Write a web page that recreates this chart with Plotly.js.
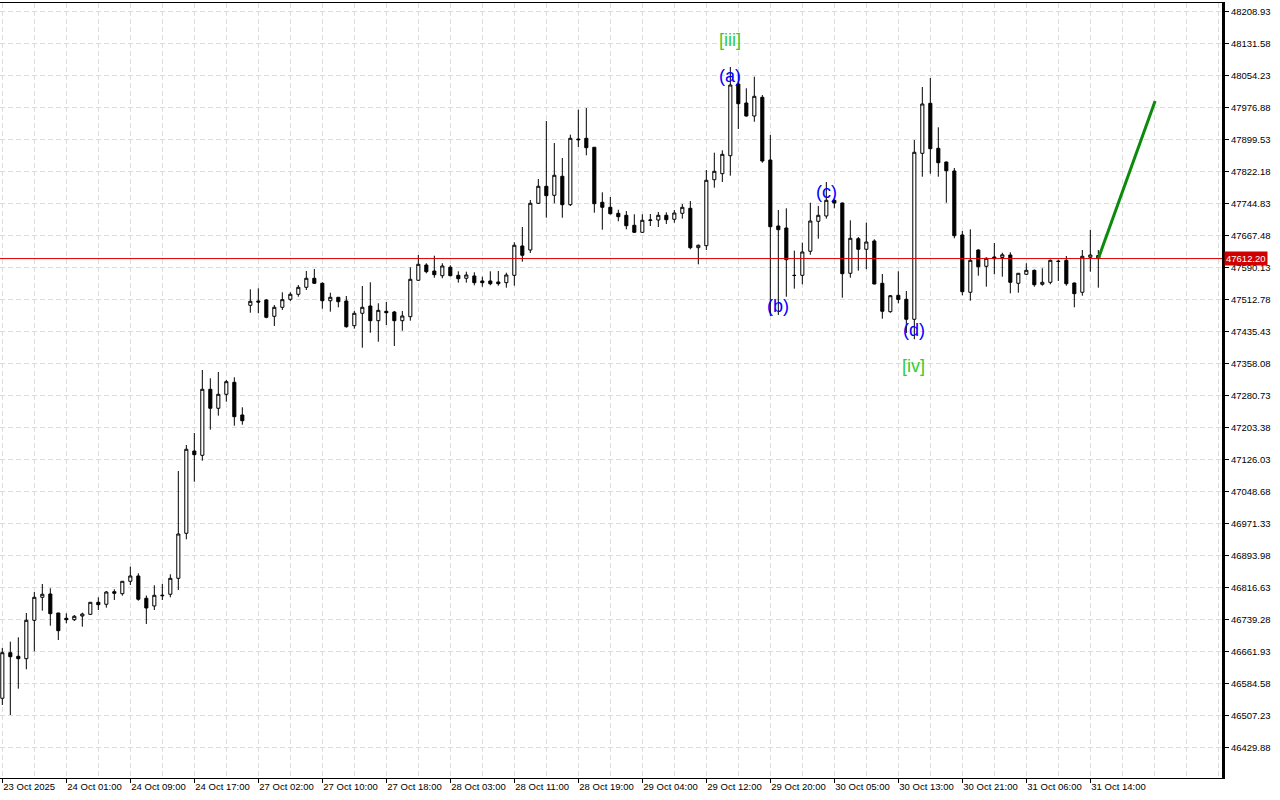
<!DOCTYPE html>
<html>
<head>
<meta charset="utf-8">
<script src="https://cdn.plot.ly/plotly-3.0.1.min.js"></script>
<style>
  html, body { margin: 0; padding: 0; background: #ffffff; }
  #chart { width: 1280px; height: 800px; }
</style>
</head>
<body>
<div id="chart"></div>
<script>
// ---- Data (H1 bars) ----
const opens = [
  46549.3, 46659.5, 46650.8, 46645.0, 46737.8, 46793.4, 46801.4, 46755.5, 46742.6, 46739.3,
  46748.2, 46752.3, 46781.3, 46776.5, 46806.9, 46802.1, 46832.1, 46844.9, 46791.0, 46772.4,
  46797.0, 46800.7, 46839.3, 46948.1, 47147.0, 47136.6, 47296.2, 47250.3, 47284.1, 47313.1,
  47234.1, 47499.2, 47509.6, 47512.0, 47472.6, 47494.4, 47513.7, 47525.8, 47542.7, 47564.5,
  47552.4, 47510.3, 47518.6, 47509.6, 47449.9, 47479.9, 47497.5, 47462.0, 47484.7, 47483.0,
  47462.0, 47471.7, 47559.7, 47596.6, 47582.1, 47570.8, 47591.1, 47571.7, 47564.5, 47570.1,
  47558.0, 47558.0, 47555.6, 47553.9, 47571.7, 47642.6, 47632.9, 47745.8, 47786.9, 47765.1,
  47811.1, 47742.4, 47901.2, 47902.9, 47881.2, 47748.2, 47736.1, 47721.6, 47716.8, 47692.6,
  47675.7, 47704.2, 47705.4, 47716.8, 47707.1, 47721.6, 47733.7, 47638.5, 47643.3, 47802.8,
  47817.3, 47860.8, 48034.2, 47988.2, 47956.8, 48002.0, 47850.4, 47690.9, 47686.1, 47571.7,
  47571.7, 47629.8, 47702.3, 47715.1, 47753.0, 47746.5, 47576.6, 47660.2, 47634.6, 47654.7,
  47552.4, 47483.8, 47523.4, 47513.7, 47465.4, 47866.6, 47987.5, 47878.7, 47845.6, 47823.9,
  47669.2, 47530.7, 47632.9, 47593.5, 47616.0, 47614.8, 47620.8, 47552.4, 47574.2, 47583.8,
  47550.0, 47554.8, 47606.3, 47608.0, 47553.1, 47530.7, 47615.3, 47619.6
];
const highs = [
  46670.9, 46686.1, 46696.7, 46755.5, 46806.2, 46825.6, 46815.2, 46755.5, 46754.7, 46750.6,
  46756.2, 46781.3, 46793.4, 46808.6, 46812.7, 46832.1, 46867.4, 46851.4, 46797.8, 46822.4,
  46825.6, 46849.0, 47098.7, 47161.5, 47190.5, 47342.8, 47322.8, 47338.0, 47318.7, 47325.2,
  47252.7, 47537.9, 47540.3, 47514.4, 47500.0, 47530.7, 47530.7, 47548.3, 47582.1, 47587.0,
  47554.8, 47529.7, 47518.6, 47521.7, 47485.5, 47545.9, 47554.8, 47504.1, 47507.2, 47485.5,
  47485.5, 47591.1, 47620.8, 47600.8, 47619.1, 47600.8, 47595.9, 47581.4, 47580.5, 47579.0,
  47568.4, 47581.4, 47582.1, 47578.0, 47651.5, 47688.5, 47753.8, 47804.5, 47944.7, 47891.5,
  47855.3, 47911.6, 47972.0, 47976.1, 47881.2, 47772.4, 47761.0, 47730.3, 47727.2, 47719.2,
  47719.2, 47719.9, 47724.8, 47724.0, 47729.6, 47744.1, 47751.3, 47646.2, 47826.3, 47868.1,
  47873.9, 48075.3, 48060.0, 48023.8, 48051.8, 48007.6, 47910.9, 47729.6, 47733.7, 47631.2,
  47650.6, 47747.2, 47739.3, 47797.3, 47755.0, 47747.7, 47704.7, 47664.3, 47698.9, 47658.8,
  47574.9, 47524.1, 47581.4, 47533.8, 47898.8, 48026.9, 48048.7, 47929.5, 47846.8, 47831.1,
  47678.8, 47682.9, 47634.6, 47615.3, 47649.8, 47626.4, 47627.3, 47576.6, 47600.8, 47585.8,
  47588.7, 47609.9, 47609.5, 47618.4, 47554.3, 47632.9, 47681.2, 47632.9
];
const lows = [
  46533.1, 46508.9, 46572.5, 46619.4, 46662.9, 46761.0, 46724.8, 46690.2, 46730.6, 46736.1,
  46722.3, 46750.6, 46762.7, 46768.3, 46786.9, 46797.3, 46823.1, 46785.2, 46728.9, 46762.7,
  46786.9, 46793.4, 46811.1, 46933.6, 47072.8, 47123.6, 47198.5, 47232.4, 47266.2, 47208.2,
  47210.6, 47481.3, 47479.9, 47467.8, 47449.2, 47487.9, 47509.6, 47520.0, 47536.2, 47550.7,
  47491.0, 47483.8, 47494.4, 47445.1, 47442.7, 47396.7, 47433.0, 47411.2, 47451.6, 47400.9,
  47437.8, 47462.0, 47558.0, 47576.6, 47565.9, 47564.5, 47569.3, 47553.9, 47553.9, 47547.6,
  47544.2, 47547.6, 47546.6, 47541.8, 47546.6, 47604.6, 47625.7, 47744.1, 47711.0, 47745.8,
  47711.0, 47739.3, 47881.9, 47861.8, 47723.1, 47682.0, 47718.7, 47702.3, 47682.9, 47674.0,
  47674.0, 47690.9, 47688.5, 47695.8, 47698.9, 47708.6, 47634.6, 47598.3, 47632.9, 47783.5,
  47797.3, 47812.5, 47925.4, 47955.1, 47943.0, 47843.9, 47473.4, 47475.8, 47520.0, 47539.4,
  47550.0, 47621.5, 47660.2, 47708.6, 47733.7, 47517.6, 47565.9, 47582.9, 47586.3, 47550.0,
  47466.8, 47481.3, 47504.1, 47432.3, 47417.0, 47810.1, 47817.3, 47810.1, 47747.2, 47661.2,
  47523.4, 47510.3, 47570.8, 47544.2, 47574.2, 47568.4, 47528.2, 47529.7, 47572.5, 47544.2,
  47546.6, 47550.0, 47558.0, 47546.6, 47494.4, 47522.4, 47580.5, 47541.8
];
const closes = [
  46659.5, 46649.8, 46645.0, 46737.8, 46793.4, 46800.7, 46753.8, 46712.7, 46739.3, 46747.5,
  46753.0, 46781.3, 46775.5, 46806.2, 46803.1, 46832.1, 46844.9, 46788.6, 46767.6, 46798.2,
  46798.2, 46839.3, 46946.4, 47151.2, 47138.1, 47296.2, 47250.3, 47284.1, 47314.6, 47230.0,
  47220.3, 47508.9, 47507.2, 47470.2, 47494.4, 47512.8, 47525.8, 47542.7, 47564.5, 47552.4,
  47510.3, 47518.6, 47507.9, 47447.5, 47479.9, 47494.4, 47462.0, 47487.1, 47481.3, 47462.0,
  47473.4, 47562.1, 47598.3, 47580.5, 47573.2, 47594.2, 47570.8, 47563.5, 47572.5, 47553.9,
  47553.9, 47551.4, 47551.4, 47572.5, 47644.3, 47620.1, 47745.8, 47786.9, 47764.2, 47813.5,
  47742.4, 47902.9, 47899.5, 47880.2, 47744.8, 47736.1, 47720.6, 47713.4, 47691.6, 47675.7,
  47704.7, 47705.4, 47716.8, 47706.1, 47722.3, 47736.1, 47638.5, 47644.3, 47801.4, 47823.1,
  47864.2, 48031.7, 47986.5, 47956.8, 48004.4, 47848.0, 47689.2, 47682.0, 47609.5, 47571.3,
  47628.1, 47703.0, 47716.8, 47753.0, 47746.5, 47575.6, 47661.2, 47634.6, 47652.2, 47550.7,
  47484.7, 47522.4, 47513.3, 47465.4, 47869.1, 47985.8, 47877.8, 47843.9, 47824.6, 47667.5,
  47532.1, 47608.0, 47592.5, 47612.8, 47611.9, 47621.3, 47554.8, 47576.6, 47583.8, 47549.0,
  47554.8, 47608.0, 47605.1, 47551.4, 47527.3, 47617.7, 47620.8, 47612.2
];

// x-axis labels (every 8 bars)
const xTickBars = [0, 8, 16, 24, 32, 40, 48, 56, 64, 72, 80, 88, 96, 104, 112, 120, 128, 136];
const xTickLabels = [
  '23 Oct 2025', '24 Oct 01:00', '24 Oct 09:00', '24 Oct 17:00', '27 Oct 02:00', '27 Oct 10:00',
  '27 Oct 18:00', '28 Oct 03:00', '28 Oct 11:00', '28 Oct 19:00', '29 Oct 04:00', '29 Oct 12:00',
  '29 Oct 20:00', '30 Oct 05:00', '30 Oct 13:00', '30 Oct 21:00', '31 Oct 06:00', '31 Oct 14:00'
];
// y-axis labels
const yTickLabels = [
  '48208.93', '48131.58', '48054.23', '47976.88', '47899.53', '47822.18', '47744.83', '47667.48',
  '47590.13', '47512.78', '47435.43', '47358.08', '47280.73', '47203.38', '47126.03', '47048.68',
  '46971.33', '46893.98', '46816.63', '46739.28', '46661.93', '46584.58', '46507.23', '46429.88'
];
const currentPrice = 47612.20;
// forecast arrow (bar index, price)
const forecastX = [137, 144.1];
const forecastY = [47612.2, 47993.1];

// ---- Build chart ----
const barIndex = opens.map((_, i) => i);

const candles = {
  type: 'candlestick',
  x: barIndex,
  open: opens, high: highs, low: lows, close: closes,
  increasing: { line: { color: '#000000', width: 1 }, fillcolor: '#ffffff' },
  decreasing: { line: { color: '#000000', width: 1 }, fillcolor: '#000000' },
  whiskerwidth: 0,
  hoverinfo: 'skip',
  showlegend: false
};

const forecast = {
  type: 'scatter', mode: 'lines',
  x: forecastX, y: forecastY,
  line: { color: '#0b8a0b', width: 3 },
  hoverinfo: 'skip', showlegend: false
};

const gridColor = '#dcdcdc';
const tickFont = { family: 'Liberation Sans, Arial, sans-serif', size: 9.5, color: '#000000' };
const waveFont = (c) => ({ family: 'Liberation Sans, Arial, sans-serif', size: 18, color: c });

const layout = {
  width: 1280, height: 800,
  margin: { l: 0, r: 58, t: 3, b: 22, pad: 0 },
  paper_bgcolor: '#ffffff', plot_bgcolor: '#ffffff',
  boxgap: 0.45,
  showlegend: false,
  xaxis: {
    range: [-0.29, 152.46],
    tickmode: 'array', tickvals: xTickBars, ticktext: xTickLabels,
    ticklabelposition: 'outside right',
    ticks: 'outside', ticklen: 4, tickcolor: '#000000',
    tickfont: tickFont,
    showgrid: true, gridcolor: gridColor, griddash: '5px,3px', gridwidth: 1,
    minor: { tickmode: 'linear', tick0: 0, dtick: 4, showgrid: true, gridcolor: gridColor, griddash: '5px,3px', ticks: '' },
    showline: true, linecolor: '#000000', linewidth: 1, mirror: true,
    zeroline: false,
    rangeslider: { visible: false },
    fixedrange: true
  },
  yaxis: {
    side: 'right',
    range: [46356.6, 48229.95],
    tickmode: 'array', tickvals: yTickLabels.map(Number), ticktext: yTickLabels,
    ticks: 'outside', ticklen: 4, tickcolor: '#000000',
    tickfont: tickFont,
    showgrid: true, gridcolor: gridColor, griddash: '5px,3px', gridwidth: 1,
    showline: true, linecolor: '#000000', linewidth: 3, mirror: true,
    zeroline: false,
    fixedrange: true
  },
  shapes: [
    { type: 'line', xref: 'paper', x0: 0, x1: 1, yref: 'y', y0: currentPrice, y1: currentPrice,
      line: { color: '#e00000', width: 1 } }
  ],
  annotations: [
    { text: '[iii]', x: 90.96, y: 48141.7, xref: 'x', yref: 'y', showarrow: false, font: waveFont('#33cc33') },
    { text: '(a)', x: 90.96, y: 48052.3, xref: 'x', yref: 'y', showarrow: false, font: waveFont('#0000ff') },
    { text: '(b)', x: 96.96, y: 47498.7, xref: 'x', yref: 'y', showarrow: false, font: waveFont('#0000ff') },
    { text: '(c)', x: 103.0, y: 47774.3, xref: 'x', yref: 'y', showarrow: false, font: waveFont('#0000ff') },
    { text: '(d)', x: 114.0, y: 47439.5, xref: 'x', yref: 'y', showarrow: false, font: waveFont('#0000ff') },
    { text: '[iv]', x: 113.9, y: 47352.5, xref: 'x', yref: 'y', showarrow: false, font: waveFont('#33cc33') },
    { text: currentPrice.toFixed(2), xref: 'paper', x: 1, xanchor: 'left', xshift: 2,
      yref: 'y', y: currentPrice, showarrow: false, bgcolor: '#d00000', borderpad: 1,
      font: { family: 'Liberation Sans, Arial, sans-serif', size: 9.5, color: '#ffffff' } }
  ]
};

Plotly.newPlot('chart', [candles, forecast], layout, { displayModeBar: false, staticPlot: true });
</script>
</body>
</html>
